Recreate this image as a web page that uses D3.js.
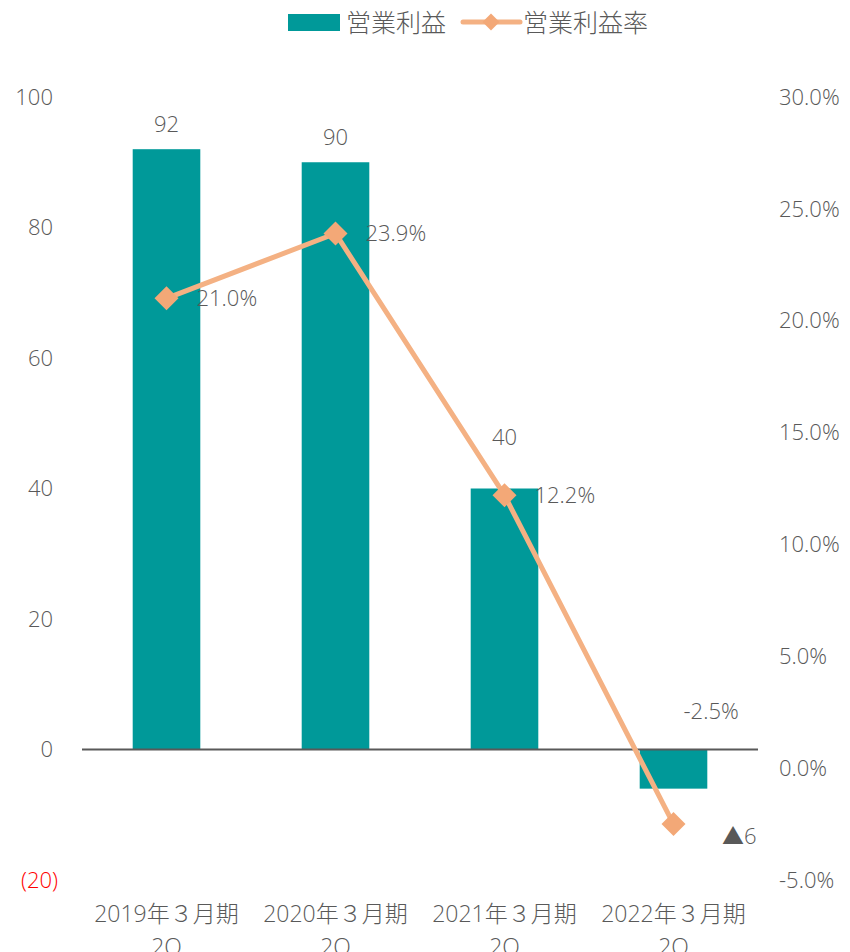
<!DOCTYPE html>
<html><head><meta charset="utf-8">
<script src="https://cdn.jsdelivr.net/npm/d3@7"></script>
<style>
html,body{margin:0;padding:0;background:#fff;}
svg text{font-family:"Open Sans","Noto Sans CJK JP",sans-serif;font-weight:300;fill:#595959;}
</style></head>
<body>
<svg id="chart" width="850" height="952"></svg>
<script>
const categories = ["2019年３月期", "2020年３月期", "2021年３月期", "2022年３月期"];
const categorySub = ["2Q", "2Q", "2Q", "2Q"];
const profit = [92, 90, 40, -6];
const margin = [21.0, 23.9, 12.2, -2.5];
const leftTicks = [-20, 0, 20, 40, 60, 80, 100];
const rightTicks = [-5, 0, 5, 10, 15, 20, 25, 30];
const seriesNames = ["営業利益", "営業利益率"];
// label nudges (layout, not data)
const barLabelExtra = [0, 0, 26, 0];
const lineLabelNudge = [[30, 0], [30, 0], [30, 0], [10, -113]];

(function(){
const svg = d3.select("#chart");
const teal = "#009999", orange = "#F4B183", orangeMk = "#F3A877";
const plotTop = 97, plotBottom = 880, plotLeft = 82, plotRight = 758;
const fs = 22;

const x = d3.scaleBand().domain(categories).range([plotLeft, plotRight]).paddingInner(0.6).paddingOuter(0.3);
const yL = d3.scaleLinear().domain([-20, 100]).range([plotBottom, plotTop]);
const yR = d3.scaleLinear().domain([-5, 30]).range([plotBottom, plotTop]);

svg.append("g").selectAll("text").data(leftTicks).join("text")
  .attr("x", d => d < 0 ? 58 : 53).attr("y", d => yL(d)).attr("dy", "0.35em")
  .attr("text-anchor", "end").attr("font-size", fs)
  .style("fill", d => d < 0 ? "#FF0000" : "#595959")
  .text(d => d < 0 ? "(" + Math.abs(d) + ")" : d);

svg.append("g").selectAll("text").data(rightTicks).join("text")
  .attr("x", 779).attr("y", d => yR(d)).attr("dy", "0.35em")
  .attr("text-anchor", "start").attr("font-size", fs)
  .text(d => d.toFixed(1) + "%");

svg.append("g").selectAll("rect").data(profit).join("rect")
  .attr("x", (d, i) => x(categories[i]))
  .attr("width", x.bandwidth())
  .attr("y", d => yL(Math.max(0, d)))
  .attr("height", d => Math.abs(yL(d) - yL(0)))
  .attr("fill", teal);

svg.append("line").attr("x1", plotLeft).attr("x2", plotRight)
  .attr("y1", yL(0)).attr("y2", yL(0))
  .attr("stroke", "#595959").attr("stroke-width", 2);

svg.append("g").selectAll("text").data(profit).join("text")
  .attr("x", (d, i) => d < 0 ? x(categories[i]) + x.bandwidth() + 32 : x(categories[i]) + x.bandwidth() / 2)
  .attr("y", (d, i) => d < 0 ? yL(d) + 48 : yL(d) - 25 - barLabelExtra[i])
  .attr("dy", "0.35em").attr("text-anchor", "middle").attr("font-size", fs)
  .text(d => d < 0 ? "▲" + Math.abs(d) : d);

const cx = i => x(categories[i]) + x.bandwidth() / 2;
const line = d3.line().x((d, i) => cx(i)).y(d => yR(d));
svg.append("path").datum(margin).attr("d", line)
  .attr("fill", "none").attr("stroke", orange).attr("stroke-width", 5).attr("stroke-linejoin", "round");

svg.append("g").selectAll("rect").data(margin).join("rect")
  .attr("x", -8.5).attr("y", -8.5).attr("width", 17).attr("height", 17)
  .attr("transform", (d, i) => `translate(${cx(i)},${yR(d)}) rotate(45)`)
  .attr("fill", orangeMk);

svg.append("g").selectAll("text").data(margin).join("text")
  .attr("x", (d, i) => cx(i) + lineLabelNudge[i][0])
  .attr("y", (d, i) => yR(d) + lineLabelNudge[i][1])
  .attr("dy", "0.35em").attr("text-anchor", "start").attr("font-size", fs)
  .text(d => d.toFixed(1) + "%");

const cat = svg.append("g");
cat.selectAll("text.c1").data(categories).join("text").attr("class", "c1")
  .attr("x", d => x(d) + x.bandwidth() / 2).attr("y", 922)
  .attr("text-anchor", "middle").attr("font-size", 23).text(d => d);
cat.selectAll("text.c2").data(categorySub).join("text").attr("class", "c2")
  .attr("x", (d, i) => x(categories[i]) + x.bandwidth() / 2).attr("y", 955)
  .attr("text-anchor", "middle").attr("font-size", 23).text(d => d);

const lg = svg.append("g");
lg.append("rect").attr("x", 288).attr("y", 14).attr("width", 52).attr("height", 17).attr("fill", teal);
lg.append("text").attr("x", 346).attr("y", 23).attr("dy", "0.35em").attr("font-size", 25).text(seriesNames[0]);
lg.append("line").attr("x1", 463).attr("x2", 520).attr("y1", 22).attr("y2", 22)
  .attr("stroke", orange).attr("stroke-width", 5).attr("stroke-linecap", "round");
lg.append("rect").attr("x", -6).attr("y", -6).attr("width", 12).attr("height", 12)
  .attr("transform", "translate(491,22) rotate(45)").attr("fill", orangeMk);
lg.append("text").attr("x", 523).attr("y", 23).attr("dy", "0.35em").attr("font-size", 25).text(seriesNames[1]);
})();
</script>
</body></html>
